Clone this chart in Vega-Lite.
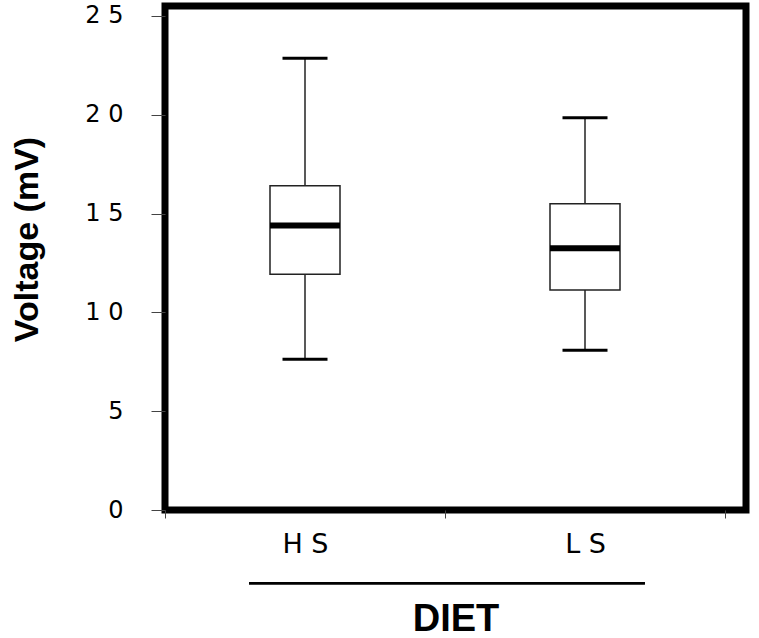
{
  "$schema": "https://vega.github.io/schema/vega-lite/v6.json",
  "autosize": {"type": "none"},
  "width": 581,
  "height": 504,
  "padding": {"left": 165, "top": 6, "right": 13, "bottom": 128},
  "background": "white",
  "config": {
    "view": {"stroke": "black", "strokeWidth": 7},
    "font": "Liberation Sans"
  },
  "data": {
    "values": [
      {"diet": "HS", "lower": 7.63, "q1": 11.93, "median": 14.39, "q3": 16.41, "upper": 22.86},
      {"diet": "LS", "lower": 8.08, "q1": 11.13, "median": 13.24, "q3": 15.5, "upper": 19.85}
    ]
  },
  "layer": [
    {
      "mark": {"type": "rule", "color": "#222222", "strokeWidth": 1.5},
      "encoding": {
        "x": {
          "field": "diet", "type": "nominal",
          "scale": {"domain": ["HS", "LS"], "paddingInner": 0, "paddingOuter": 0.0375, "align": 0},
          "axis": {
            "title": "DIET", "titleFontSize": 38, "titleFontWeight": "bold", "titleColor": "black", "titlePadding": 43,
            "labelAngle": 0, "labelFontSize": 27, "labelFont": "DejaVu Sans", "labelColor": "black", "labelPadding": 13,
            "labelExpr": "join(split(datum.label, ''), ' ')",
            "tickBand": "extent", "tickSize": 8, "tickColor": "#444444", "tickWidth": 1,
            "domain": false, "grid": false
          }
        },
        "y": {
          "field": "lower", "type": "quantitative",
          "scale": {"domain": [0, 25.5], "nice": false, "zero": true},
          "axis": {
            "title": "Voltage (mV)", "titleFontSize": 34, "titleFontWeight": "bold", "titleColor": "black", "titlePadding": 40, "titleY": 233,
            "values": [0, 5, 10, 15, 20, 25],
            "labelFontSize": 24, "labelFont": "DejaVu Sans", "labelColor": "black", "labelPadding": 28,
            "labelExpr": "join(split(datum.label, ''), ' ')",
            "tickSize": 14, "tickColor": "#444444", "tickWidth": 1,
            "domain": false, "grid": false
          }
        },
        "y2": {"field": "upper"}
      }
    },
    {
      "mark": {"type": "bar", "fill": "white", "stroke": "#222222", "strokeWidth": 1.5, "size": 70},
      "encoding": {
        "x": {"field": "diet", "type": "nominal"},
        "y": {"field": "q1", "type": "quantitative"},
        "y2": {"field": "q3"}
      }
    },
    {
      "mark": {"type": "tick", "color": "black", "size": 70, "thickness": 6, "opacity": 1},
      "encoding": {
        "x": {"field": "diet", "type": "nominal"},
        "y": {"field": "median", "type": "quantitative"}
      }
    },
    {
      "mark": {"type": "tick", "color": "black", "size": 45, "thickness": 3, "opacity": 1},
      "encoding": {
        "x": {"field": "diet", "type": "nominal"},
        "y": {"field": "upper", "type": "quantitative"}
      }
    },
    {
      "mark": {"type": "tick", "color": "black", "size": 45, "thickness": 3, "opacity": 1},
      "encoding": {
        "x": {"field": "diet", "type": "nominal"},
        "y": {"field": "lower", "type": "quantitative"}
      }
    },
    {
      "mark": {"type": "rule", "color": "black", "strokeWidth": 2.5},
      "encoding": {
        "x": {"datum": "HS", "bandPosition": 0.3},
        "x2": {"datum": "LS", "bandPosition": 0.714},
        "y": {"datum": -3.7, "type": "quantitative"}
      }
    }
  ]
}
